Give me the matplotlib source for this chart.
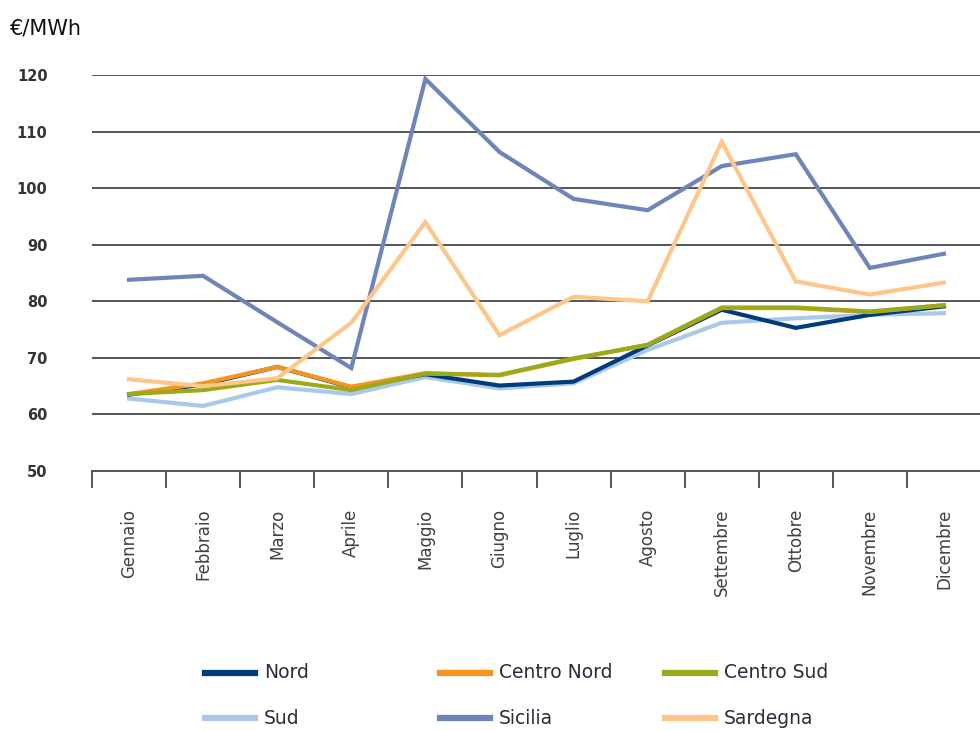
import matplotlib
matplotlib.use('Agg')
import matplotlib.pyplot as plt
from matplotlib.lines import Line2D

# ---- data ----
months = ['Gennaio', 'Febbraio', 'Marzo', 'Aprile', 'Maggio', 'Giugno',
          'Luglio', 'Agosto', 'Settembre', 'Ottobre', 'Novembre', 'Dicembre']
nord        = [63.5, 65.3, 68.4, 64.8, 67.1, 65.1, 65.8, 72.2, 78.5, 75.3, 77.6, 79.1]
centro_nord = [63.6, 65.5, 68.4, 64.9, 67.3, 66.9, 69.8, 72.3, 78.8, 78.8, 78.1, 79.3]
centro_sud  = [63.6, 64.3, 66.1, 64.3, 67.2, 67.0, 69.9, 72.3, 78.9, 78.9, 78.2, 79.3]
sud         = [62.8, 61.5, 64.8, 63.6, 66.6, 64.6, 65.5, 71.4, 76.2, 77.0, 77.6, 77.9]
sicilia     = [83.8, 84.5, 76.3, 68.2, 119.3, 106.4, 98.1, 96.1, 103.9, 106.0, 85.9, 88.4]
sardegna    = [66.2, 65.0, 66.4, 76.2, 94.0, 74.0, 80.8, 80.0, 108.2, 83.5, 81.2, 83.3]
yticks = [50, 60, 70, 80, 90, 100, 110, 120]

series = [('Sud', sud, '#a9c8ea'),
          ('Nord', nord, '#003b7a'),
          ('Centro Nord', centro_nord, '#f7941d'),
          ('Centro Sud', centro_sud, '#9aaa1a'),
          ('Sicilia', sicilia, '#6f84b8'),
          ('Sardegna', sardegna, '#fdc68a')]

fig = plt.figure(figsize=(9.8, 7.31), dpi=100)
ax = fig.add_axes([92/980, 1-471/731, 889/980, 396/731])

x = list(range(len(months)))
for name, vals, col in series:
    ax.plot(x, vals, color=col, lw=3.0, solid_joinstyle='miter', label=name)

ax.set_xlim(-0.5, len(months)-0.5)
ax.set_ylim(50, 120)
ax.set_yticks(yticks)
for y in yticks[1:]:
    ax.axhline(y, color='#555555', lw=1.4, zorder=0)
for s in ['top', 'right', 'left']:
    ax.spines[s].set_visible(False)
ax.spines['bottom'].set_color('#555555')
ax.spines['bottom'].set_linewidth(1.4)
ax.tick_params(axis='y', length=0, pad=32, labelsize=10.5, labelcolor='#333333')
for lab in ax.get_yticklabels():
    lab.set_fontweight('bold')

# ticks between categories, labels at category centres
ax.set_xticks([i - 0.5 for i in range(len(months)+1)])
ax.set_xticklabels([])
ax.set_xticks(x, minor=True)
ax.set_xticklabels(months, minor=True, rotation=90, va='top', ha='center',
                   fontsize=12, color='#404040')
ax.tick_params(axis='x', which='major', direction='out', length=12, width=1.4,
               color='#555555')
ax.tick_params(axis='x', which='minor', length=0, pad=27)

fig.text(10/980, 1-28/731, '€/MWh', fontsize=15, va='center', ha='left',
         color='#111111')

# legend laid out in two rows of three
leg_order = ['Nord', 'Centro Nord', 'Centro Sud', 'Sud', 'Sicilia', 'Sardegna']
colors = {n: c for n, _, c in series}
col_x = [205, 440, 665]
row_y = [673, 718]
for k, name in enumerate(leg_order):
    cx = col_x[k % 3]
    ry = 1 - row_y[k // 3]/731
    fig.add_artist(Line2D([cx/980, (cx+50)/980], [ry, ry], color=colors[name],
                          lw=4.5, transform=fig.transFigure))
    fig.text((cx+59)/980, ry, name, fontsize=13.5, va='center', ha='left',
             color='#2b2b3a')

fig.savefig('out.png', dpi=100)
